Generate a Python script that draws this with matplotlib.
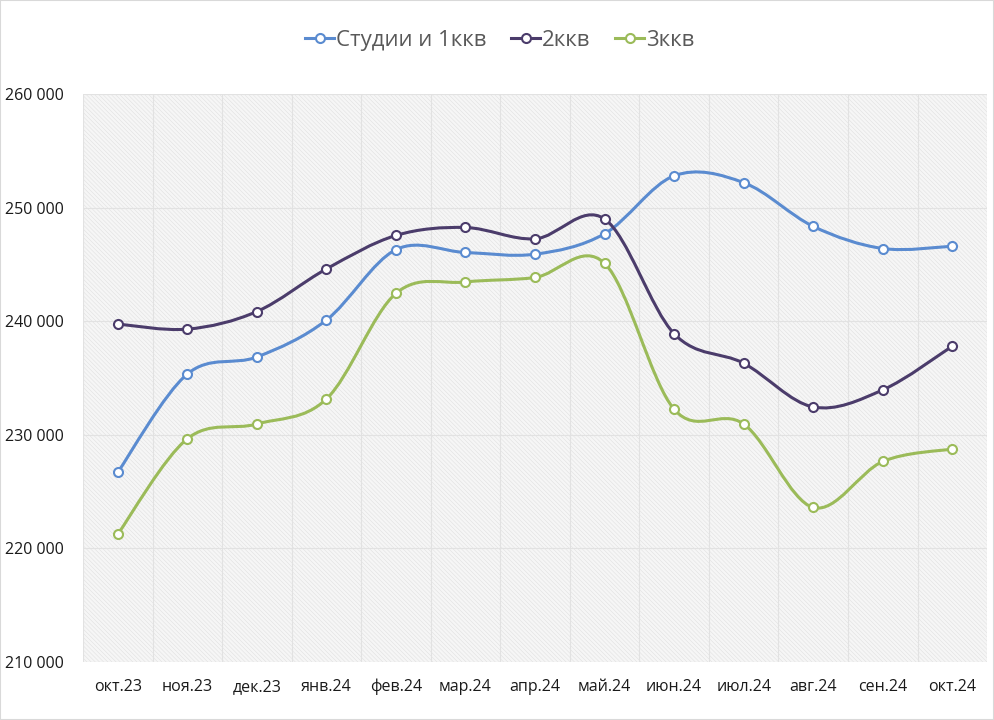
import numpy as np
import matplotlib

matplotlib.use("Agg")
import matplotlib.pyplot as plt  # noqa: E402
from matplotlib.lines import Line2D  # noqa: E402
from matplotlib.patches import PathPatch, Rectangle  # noqa: E402
from matplotlib.path import Path  # noqa: E402
from matplotlib.ticker import FuncFormatter, MultipleLocator  # noqa: E402

MONTHS = ["окт.23", "ноя.23", "дек.23", "янв.24", "фев.24", "мар.24", "апр.24",
          "май.24", "июн.24", "июл.24", "авг.24", "сен.24", "окт.24"]
STUDIO_1K = [226700, 235350, 236850, 240100, 246300, 246050, 245900,
             247700, 252800, 252200, 248350, 246400, 246600]
TWO_ROOM = [239750, 239300, 240850, 244600, 247550, 248250, 247250,
            249000, 238900, 236300, 232450, 233950, 237800]
THREE_ROOM = [221250, 229650, 230950, 233150, 242450, 243450, 243850,
              245100, 232250, 230950, 223600, 227650, 228750]

SERIES = [
    ("Студии и 1ккв", STUDIO_1K, "#5a8bd0"),
    ("2ккв", TWO_ROOM, "#4b3c6b"),
    ("3ккв", THREE_ROOM, "#9bbb59"),
]

plt.rcParams.update({
    "font.family": ["Open Sans", "DejaVu Sans"],
    "hatch.linewidth": 0.35,
})


def smooth_path(xs, ys):
    # Excel-like smoothed line: Catmull-Rom segments as cubic Beziers
    pts = np.column_stack([xs, ys]).astype(float)
    padded = np.vstack([pts[0], pts, pts[-1]])
    verts = [pts[0]]
    codes = [Path.MOVETO]
    for i in range(len(pts) - 1):
        p0, p1, p2, p3 = padded[i], padded[i + 1], padded[i + 2], padded[i + 3]
        verts += [p1 + (p2 - p0) / 6, p2 - (p3 - p1) / 6, p2]
        codes += [Path.CURVE4] * 3
    return Path(verts, codes)


fig = plt.figure(figsize=(9.94, 7.2), dpi=100)
ax = fig.add_axes([0.0835, 0.0806, 0.9095, 0.7888])

ax.add_patch(Rectangle((0, 0), 1, 1, transform=ax.transAxes, facecolor="#f6f6f6",
                       edgecolor="#dedede", hatch="\\" * 8, lw=0, zorder=0))

x = np.arange(len(MONTHS))
for label, values, color in SERIES:
    ax.add_patch(PathPatch(smooth_path(x, values), fill=False, edgecolor=color,
                           lw=2.2, capstyle="round", joinstyle="round", zorder=3))
    ax.plot(x, values, linestyle="none", marker="o", ms=6.5, mfc="white",
            mec=color, mew=1.5, zorder=4)

ax.set_xlim(-0.5, len(MONTHS) - 0.5)
ax.set_ylim(210000, 260000)
ax.set_xticks(x)
ax.set_xticklabels(MONTHS)
ax.xaxis.set_minor_locator(MultipleLocator(1, offset=0.5))
ax.yaxis.set_major_locator(MultipleLocator(10000))
ax.yaxis.set_major_formatter(FuncFormatter(lambda v, _: f"{int(v):,}".replace(",", " ")))
ax.tick_params(axis="both", which="both", length=0, labelsize=11.5, colors="#1a1a1a")
ax.tick_params(axis="y", pad=14)
ax.tick_params(axis="x", pad=12)
ax.grid(axis="y", which="major", color="#e2e2e2", lw=0.8)
ax.grid(axis="x", which="minor", color="#e2e2e2", lw=0.8)
ax.set_axisbelow(True)
for spine in ax.spines.values():
    spine.set_visible(False)

handles = [Line2D([], [], color=c, lw=2.2, marker="o", ms=6.5, mfc="white", mec=c, mew=1.5)
           for _, _, c in SERIES]
fig.legend(handles, [s[0] for s in SERIES], loc="center", bbox_to_anchor=(0.503, 0.944),
           ncol=3, frameon=False, fontsize=16, labelcolor="#595959",
           handlelength=1.3, handletextpad=0.1, columnspacing=1.1)

fig.patches.append(Rectangle((0, 0), 1, 1, transform=fig.transFigure, fill=False,
                             edgecolor="#d9d9d9", lw=1.5))

fig.savefig("out.png", dpi=100)
